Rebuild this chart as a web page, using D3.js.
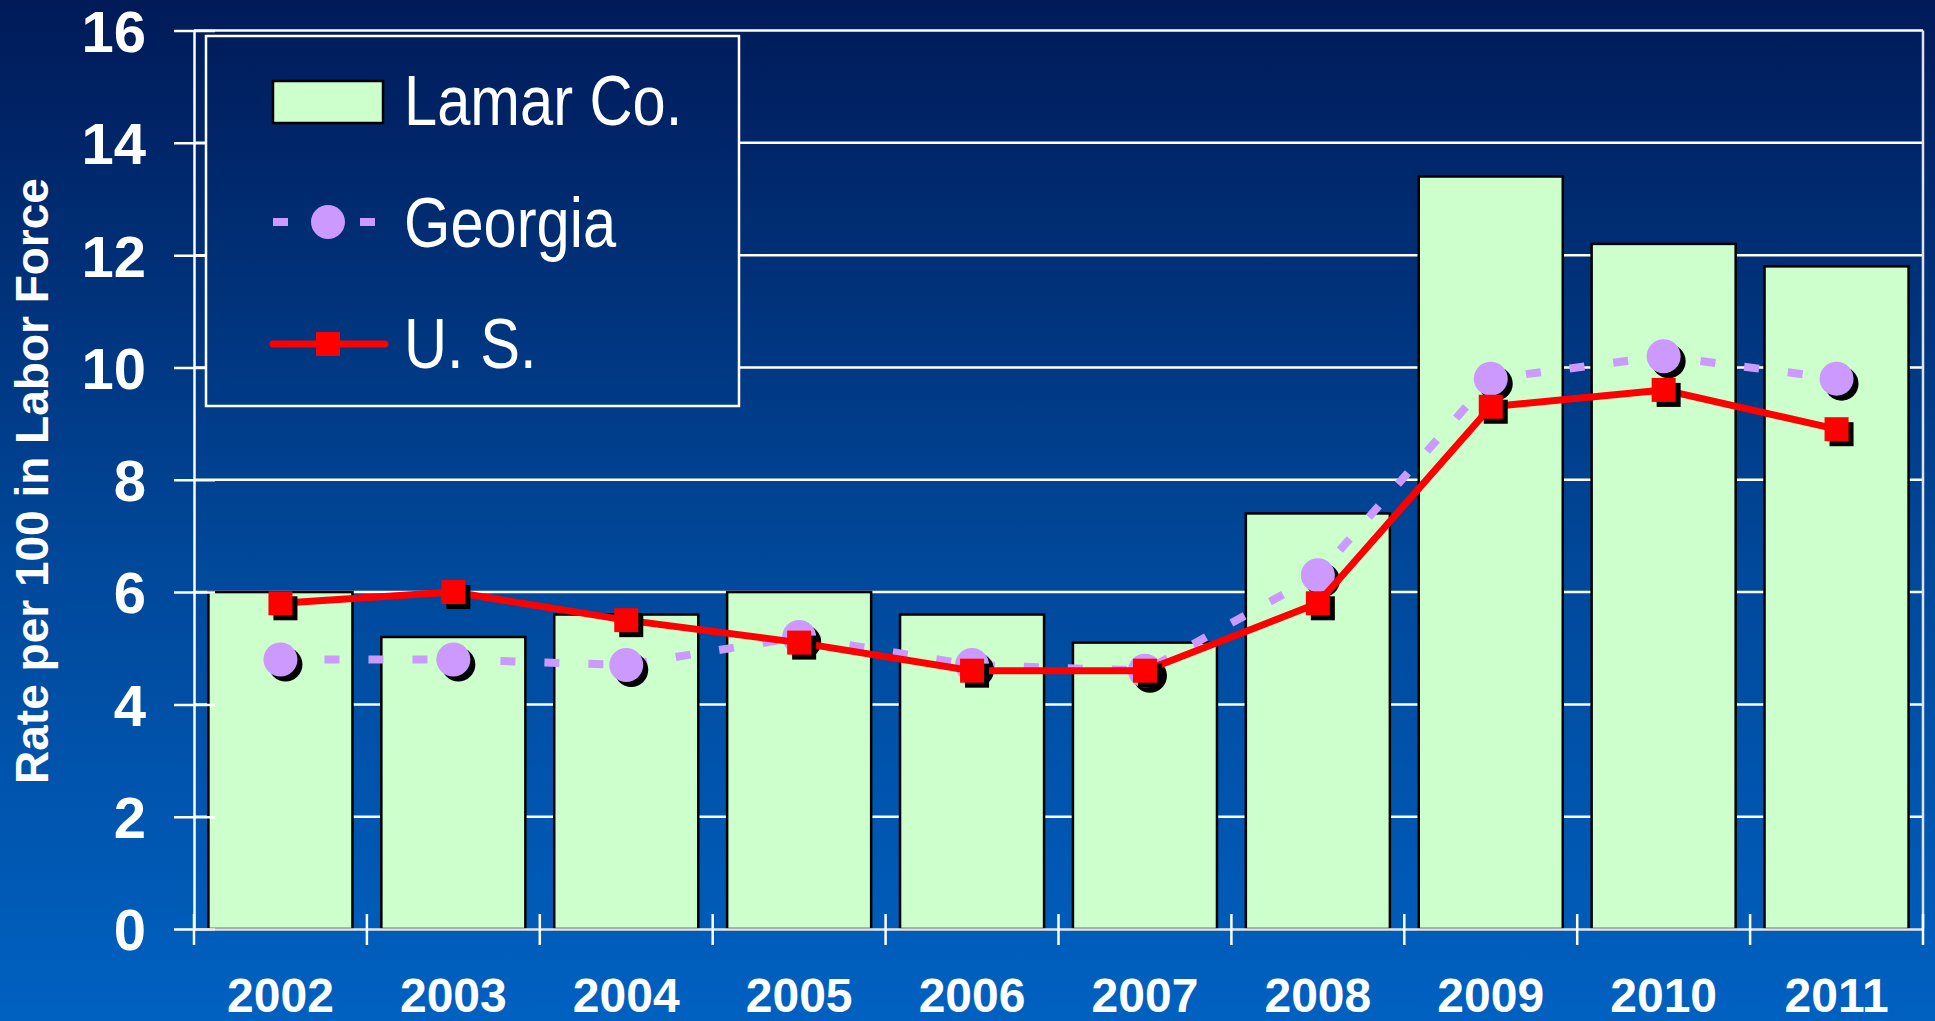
<!DOCTYPE html>
<html>
<head>
<meta charset="utf-8">
<script src="https://cdn.jsdelivr.net/npm/d3@7"></script>
<style>
  html, body { margin: 0; padding: 0; background: #001a58; }
  svg { display: block; }
</style>
</head>
<body>
<svg id="chart" width="1935" height="1021"></svg>
<script>
// ---- data ----
const years   = ["2002","2003","2004","2005","2006","2007","2008","2009","2010","2011"];
const lamar   = [6.0, 5.2, 5.6, 6.0, 5.6, 5.1, 7.4, 13.4, 12.2, 11.8];
const georgia = [4.8, 4.8, 4.7, 5.2, 4.7, 4.6, 6.3, 9.8, 10.2, 9.8];
const us      = [5.8, 6.0, 5.5, 5.1, 4.6, 4.6, 5.8, 9.3, 9.6, 8.9];
const yTicks  = [0, 2, 4, 6, 8, 10, 12, 14, 16];
const seriesNames = ["Lamar Co.", "Georgia", "U. S."];
const yTitle = "Rate per 100 in Labor Force";

(function () {
const W = 1935, H = 1021;
const svg = d3.select("#chart");

// background gradient
const defs = svg.append("defs");
const grad = defs.append("linearGradient")
  .attr("id", "bg").attr("gradientUnits", "userSpaceOnUse")
  .attr("x1", 0).attr("y1", 0).attr("x2", 0).attr("y2", H);
grad.append("stop").attr("offset", "0%").attr("stop-color", "#001a58");
grad.append("stop").attr("offset", "55%").attr("stop-color", "#00489a");
grad.append("stop").attr("offset", "100%").attr("stop-color", "#0061c1");
svg.append("rect").attr("width", W).attr("height", H).attr("fill", "url(#bg)");

// scales
const pLeft = 194, pRight = 1923, pTop = 30.5, pBottom = 929;
const x = d3.scaleBand().domain(years).range([pLeft, pRight]).paddingInner(0.167).paddingOuter(0.0835);
const xc = d => x(d) + x.bandwidth() / 2;
const y = d3.scaleLinear().domain([0, 16]).range([pBottom, pTop]);

// gridlines
svg.append("g").selectAll("line").data(yTicks.filter(t => t > 0)).join("line")
  .attr("x1", pLeft).attr("x2", pRight)
  .attr("y1", d => y(d)).attr("y2", d => y(d))
  .attr("stroke", "#ffffff").attr("stroke-width", 2.5);

// right border
svg.append("line").attr("x1", pRight).attr("x2", pRight).attr("y1", pTop).attr("y2", pBottom)
  .attr("stroke", "#dde4ee").attr("stroke-width", 2.5);

// bars
svg.append("g").selectAll("rect").data(years).join("rect")
  .attr("x", d => x(d)).attr("width", x.bandwidth())
  .attr("y", (d, i) => y(lamar[i])).attr("height", (d, i) => y(0) - y(lamar[i]))
  .attr("fill", "#ccffcc").attr("stroke", "#000").attr("stroke-width", 2.5);

// y axis
const yAxis = d3.axisLeft(y).tickValues(yTicks).tickSize(0).tickPadding(0).tickFormat(d3.format("d"));
const gy = svg.append("g").attr("transform", `translate(${pLeft},0)`).call(yAxis);
gy.select(".domain").attr("stroke", "#fff").attr("stroke-width", 2.5);
gy.selectAll(".tick line").remove();
gy.selectAll(".tick").append("line")
  .attr("x1", -20).attr("x2", 21).attr("stroke", "#fff").attr("stroke-width", 2.5);
gy.selectAll(".tick text")
  .attr("x", -48).attr("dy", "0.36em")
  .attr("fill", "#fff").attr("font-family", "'Liberation Sans', Arial, sans-serif")
  .attr("font-weight", "bold").attr("font-size", 58).attr("text-anchor", "end");

// x axis
const xAxis = d3.axisBottom(x).tickSize(0).tickPadding(0);
const gx = svg.append("g").attr("transform", `translate(0,${pBottom})`).call(xAxis);
gx.select(".domain").attr("stroke", "#e6e6e6").attr("stroke-width", 2.5);
gx.selectAll(".tick text")
  .attr("y", 83).attr("dy", 0)
  .attr("fill", "#fff").attr("font-family", "'Liberation Sans', Arial, sans-serif")
  .attr("font-weight", "bold").attr("font-size", 48);
// boundary ticks
const boundaries = d3.range(years.length + 1).map(i => pLeft + i * x.step());
svg.append("g").selectAll("line").data(boundaries).join("line")
  .attr("x1", d => d).attr("x2", d => d)
  .attr("y1", pBottom - 15).attr("y2", pBottom + 16)
  .attr("stroke", "#fff").attr("stroke-width", 2.5);

// Georgia line
const lineG = d3.line().x((d, i) => xc(years[i])).y(d => y(d));
svg.append("path").datum(georgia).attr("d", lineG)
  .attr("fill", "none").attr("stroke", "#cc99ff").attr("stroke-width", 8)
  .attr("stroke-dasharray", "15,29");
// Georgia markers
const gm = svg.append("g");
gm.selectAll("circle.sh").data(georgia).join("circle").attr("class", "sh")
  .attr("cx", (d, i) => xc(years[i]) + 5).attr("cy", d => y(d) + 5).attr("r", 17).attr("fill", "#000");
gm.selectAll("circle.mk").data(georgia).join("circle").attr("class", "mk")
  .attr("cx", (d, i) => xc(years[i])).attr("cy", d => y(d)).attr("r", 17).attr("fill", "#cc99ff");

// US line
svg.append("path").datum(us).attr("d", lineG)
  .attr("fill", "none").attr("stroke", "#ff0000").attr("stroke-width", 7)
  .attr("stroke-linejoin", "round");
const um = svg.append("g");
const s = 24;
um.selectAll("rect.sh").data(us).join("rect").attr("class", "sh")
  .attr("x", (d, i) => xc(years[i]) - s / 2 + 5).attr("y", d => y(d) - s / 2 + 5)
  .attr("width", s).attr("height", s).attr("fill", "#000");
um.selectAll("rect.mk").data(us).join("rect").attr("class", "mk")
  .attr("x", (d, i) => xc(years[i]) - s / 2).attr("y", d => y(d) - s / 2)
  .attr("width", s).attr("height", s).attr("fill", "#ff0000");

// y title
svg.append("text")
  .attr("transform", `translate(48,481) rotate(-90)`)
  .attr("text-anchor", "middle")
  .attr("fill", "#fff").attr("font-family", "'Liberation Sans', Arial, sans-serif")
  .attr("font-weight", "bold").attr("font-size", 46)
  .text(yTitle);

// legend
const lg = svg.append("g");
lg.append("rect").attr("x", 206).attr("y", 36).attr("width", 533).attr("height", 370)
  .attr("fill", "url(#bg)").attr("stroke", "#fff").attr("stroke-width", 2.5);
lg.append("rect").attr("x", 273).attr("y", 81).attr("width", 110).attr("height", 42)
  .attr("fill", "#ccffcc").attr("stroke", "#000").attr("stroke-width", 2.5);
lg.append("line").attr("x1", 273).attr("x2", 375).attr("y1", 222).attr("y2", 222)
  .attr("stroke", "#cc99ff").attr("stroke-width", 8).attr("stroke-dasharray", "15,72,15");
lg.append("circle").attr("cx", 328).attr("cy", 222).attr("r", 17).attr("fill", "#cc99ff");
lg.append("line").attr("x1", 273).attr("x2", 385).attr("y1", 344).attr("y2", 344)
  .attr("stroke", "#ff0000").attr("stroke-width", 7).attr("stroke-linecap", "round");
lg.append("rect").attr("x", 316).attr("y", 332).attr("width", 24).attr("height", 24).attr("fill", "#ff0000");
const ly = [125, 247, 368];
lg.selectAll("text").data(seriesNames).join("text")
  .attr("transform", (d, i) => `translate(404,${ly[i]}) scale(0.84,1)`)
  .attr("fill", "#fff")
  .attr("font-family", "'Liberation Sans', Arial, sans-serif")
  .attr("font-size", 71)
  .text(d => d);
})();
</script>
</body>
</html>
